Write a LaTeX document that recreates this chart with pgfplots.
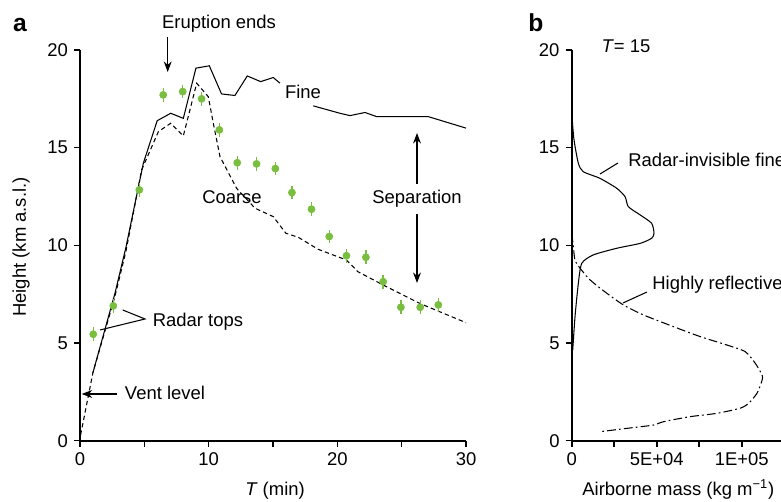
\documentclass[border=0pt]{standalone}
\usepackage{fontspec}
\setmainfont{Liberation Sans}
\usepackage{pgfplots}
\pgfplotsset{compat=1.18}
\usetikzlibrary{arrows.meta}
\definecolor{radargreen}{RGB}{122,190,64}

\pgfplotsset{
  panel/.style={
    scale only axis, anchor=south west,
    axis lines=left, axis line style={-, line width=1pt},
    enlargelimits=false, clip=false,
    tick align=outside, major tick length=0.12cm, minor tick length=0.12cm,
    every tick/.style={black, line width=0.9pt},
    tick label style={font=\fontsize{10.5}{12}\selectfont},
    /pgf/number format/assume math mode=true,
    ymin=0, ymax=20, ytick={0,5,...,20},
  },
}

\begin{document}
\begin{tikzpicture}[x=0.2mm,y=0.2mm]
\path[use as bounding box] (0,0) rectangle (781,502);
\clip (0,0) rectangle (781,502);

% panel a
\begin{axis}[panel, at={(1.6cm,1.226cm)}, width=7.72cm, height=7.814cm,
  xmin=0, xmax=30, xtick={0,10,20,30}, minor xtick={5,15,25}]
\addplot[black, line width=0.6pt] coordinates {
  (1.0,3.47) (2.72,7.55) (3.57,9.9) (4.92,14.2) (6.0,16.38) (7.05,16.76)
  (8.03,16.5) (9.01,19.07) (10.05,19.19) (11.0,17.75) (12.04,17.67)
  (13.0,18.67) (14.04,18.38) (15.02,18.59) (15.54,18.3)};
\addplot[black, line width=0.6pt] coordinates {
  (18.13,17.14) (20.2,16.76) (20.98,16.64) (22.15,16.8) (23.05,16.59)
  (27.06,16.59) (30.0,16.0)};
\addplot[black, line width=0.6pt, dash pattern=on 2.5pt off 1.8pt] coordinates {
  (0.05,0.3) (1.0,3.47) (2.72,7.4) (3.57,9.7) (4.79,13.86) (6.09,15.82)
  (7.05,16.25) (8.03,15.6) (9.07,18.3) (9.97,17.61) (10.36,16.25)
  (10.88,14.54) (12.17,12.92) (13.6,11.9) (15.02,11.47) (16.0,10.62)
  (16.97,10.41) (18.5,9.8) (20.7,9.25) (21.6,8.65) (23.56,7.97)
  (26.4,7.03) (30.0,6.04)};
\addplot[only marks, mark=*, mark size=2pt, radargreen,
  error bars/.cd, y dir=both, y fixed=0.35, error mark=none,
  error bar style={radargreen, line width=0.8pt}] coordinates {
  (1.03,5.45) (2.59,6.9) (4.61,12.84) (6.47,17.7) (7.98,17.87) (9.45,17.5)
  (10.83,15.91) (12.22,14.23) (13.72,14.17) (15.18,13.93) (16.47,12.7)
  (17.99,11.85) (19.37,10.45) (20.71,9.47) (22.22,9.39) (23.56,8.14)
  (24.94,6.83) (26.44,6.83) (27.85,6.95)};
\end{axis}

% panel b
\begin{axis}[panel, at={(11.434cm,1.226cm)}, width=4.182cm, height=7.814cm,
  xmin=0, xmax=123000, xtick={0,50000,100000},
  xticklabels={0,5E+04,1E+05}, minor xtick={25000,75000,125000},
  scaled x ticks=false]
\addplot[black, line width=0.6pt, smooth, tension=0.4] coordinates {
  (0,17.8) (300,16.5) (1350,15.4) (3900,14.2) (6800,13.77) (16600,13.43)
  (26500,12.92) (31400,12.49) (33300,11.98) (40200,11.56) (47000,11.13)
  (48400,10.62) (47000,10.36) (40200,10.1) (26500,9.85) (12700,9.51)
  (5900,9.08) (3900,8.06) (1940,6.35) (600,4.64)};
\addplot[black, line width=0.6pt, smooth, tension=0.4,
  dash pattern=on 5pt off 1.8pt on 1pt off 1.8pt] coordinates {
  (0,10.6) (900,10.0) (1900,9.25) (4900,8.83) (10800,8.23) (20600,7.55)
  (30400,6.95) (42100,6.44) (59800,5.84) (75500,5.33) (91200,4.9)
  (102000,4.56) (108000,3.96) (112000,3.36) (112000,3.1) (109000,2.43)
  (104000,1.91) (99000,1.66) (85300,1.4) (69600,1.23) (53900,0.97)
  (48000,0.8) (32300,0.63) (16600,0.46)};
\end{axis}

% annotations, pixel coordinates from the top left
\begin{scope}[y=-0.2mm, yshift=10.04cm, font=\fontsize{10.5}{12}\selectfont,
  arr/.style={-{Stealth[length=6pt,width=4.5pt]}, line width=0.6pt}]
\node[font=\fontsize{14}{16}\selectfont\bfseries] at (20,25) {a};
\node at (219,24) {Eruption ends};
\draw[arr] (167.7,37) -- (167.7,72);
\node at (303,92) {Fine};
\node at (232,197) {Coarse};
\node at (417,199) {Separation};
\draw[arr] (417,184) -- (417,133);
\draw[arr] (417,214) -- (417,283);
\node at (198,322) {Radar tops};
\draw[line width=0.6pt] (122.7,310) -- (145,319) -- (100,330);
\node at (165,393) {Vent level};
\draw[arr] (116.7,394) -- (81.7,394);
\node[rotate=90] at (21,247) {Height (km a.s.l.)};
\node at (275,491) {\textit{T} (min)};
\node[font=\fontsize{14}{16}\selectfont\bfseries] at (536,23) {b};
\node at (626,46) {\textit{T}= 15};
\node[anchor=west, inner sep=0pt] at (628,160) {Radar-invisible fine};
\draw[line width=0.6pt] (618,163) -- (600,174);
\node[anchor=west, inner sep=0pt] at (652,285) {Highly reflective};
\draw[line width=0.6pt] (647,292) -- (623,303);
\node[anchor=west, inner sep=0pt] at (582,489) {Airborne mass (kg m\textsuperscript{−1})};
\end{scope}
\end{tikzpicture}
\end{document}
